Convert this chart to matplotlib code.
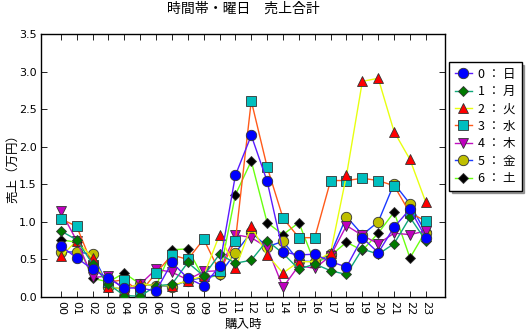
import matplotlib
matplotlib.use("Agg")
import matplotlib.pyplot as plt
import numpy as np

plt.rcParams['font.family'] = ['Noto Sans CJK JP', 'DejaVu Sans']
plt.rcParams['xtick.direction'] = 'in'
plt.rcParams['ytick.direction'] = 'in'
plt.rcParams['xtick.top'] = True
plt.rcParams['ytick.right'] = True

# 時間帯ラベル
hours = ["%02d" % h for h in range(24)]
weekdays = ["日", "月", "火", "水", "木", "金", "土"]

# 曜日ごとの売上合計（万円）
sales_0 = [0.68, 0.52, 0.37, 0.25, 0.12, 0.12, 0.08, 0.46, 0.25, 0.15, 0.41, 1.62,
           2.15, 1.54, 0.60, 0.56, 0.57, 0.47, 0.40, 0.79, 0.59, 0.93, 1.17, 0.79]
sales_1 = [0.88, 0.76, 0.44, 0.17, 0.02, 0.01, 0.15, 0.17, 0.46, 0.28, 0.57, 0.45,
           0.49, 0.75, 0.58, 0.37, 0.44, 0.35, 0.30, 0.64, 0.57, 0.71, 1.06, 0.75]
sales_2 = [0.54, 0.75, 0.52, 0.14, 0.10, 0.18, 0.15, 0.15, 0.22, 0.28, 0.83, 0.38,
           0.94, 0.56, 0.32, 0.47, 0.47, 0.59, 1.62, 2.87, 2.91, 2.20, 1.83, 1.26]
sales_3 = [1.04, 0.94, 0.42, 0.20, 0.23, 0.06, 0.32, 0.56, 0.50, 0.77, 0.34, 0.75,
           2.61, 1.73, 1.05, 0.79, 0.79, 1.55, 1.55, 1.58, 1.55, 1.48, 1.12, 1.01]
sales_4 = [1.14, 0.75, 0.26, 0.28, 0.10, 0.17, 0.37, 0.33, 0.23, 0.34, 0.35, 0.83,
           0.79, 0.66, 0.13, 0.42, 0.38, 0.55, 0.95, 0.82, 0.71, 0.85, 0.83, 0.88]
sales_5 = [0.60, 0.60, 0.57, 0.14, 0.10, 0.18, 0.15, 0.14, 0.22, 0.26, 0.30, 0.59,
           0.86, 0.67, 0.74, 0.48, 0.47, 0.57, 1.07, 0.83, 1.00, 1.51, 1.24, 0.85]
sales_6 = [0.76, 0.73, 0.25, 0.20, 0.32, 0.17, 0.15, 0.63, 0.64, 0.25, 0.29, 1.36,
           1.81, 0.99, 0.83, 0.99, 0.45, 0.55, 0.73, 0.62, 0.85, 1.13, 0.52, 0.88]
sales = [sales_0, sales_1, sales_2, sales_3, sales_4, sales_5, sales_6]

line_colors = ['#5a1aff', '#10a87a', '#e8ff10', '#ff5a1a', '#c010c0', '#1a3aff', '#6aff10']
face_colors = ['#0000ff', '#007a00', '#ff0000', '#00bfbf', '#bf00bf', '#bfbf00', '#000000']
markers = ['o', 'D', '^', 's', 'v', 'o', 'D']
sizes = [7.5, 5.5, 7.5, 7.5, 7.5, 7.5, 5.5]

fig = plt.figure(figsize=(5.29, 3.33), dpi=100)
ax = fig.add_axes([0.0775, 0.108, 0.7635, 0.79])

x = np.arange(len(hours))
for i, s in enumerate(sales):
    # 日曜を一番上に描く
    ax.plot(x, s, color=line_colors[i], marker=markers[i], markersize=sizes[i],
            markerfacecolor=face_colors[i], markeredgecolor='#333333',
            markeredgewidth=0.6, linewidth=1.0, zorder=10 - i,
            label="%d ： %s" % (i, weekdays[i]))

ax.set_xlim(-1.25, 24.2)
ax.set_ylim(0, 3.5)
ax.set_xticks(x)
ax.set_xticklabels(hours, rotation=270, fontsize=8, family='DejaVu Sans')
ax.set_yticks(np.arange(0, 3.51, 0.5))
ax.set_yticklabels(["%.1f" % v for v in np.arange(0, 3.51, 0.5)], fontsize=8, family='DejaVu Sans')
ax.tick_params(length=4, width=0.6, pad=3)
for sp in ax.spines.values():
    sp.set_linewidth(1.0)

ax.set_title("時間帯・曜日　売上合計", fontsize=10, pad=15)
ax.set_xlabel("購入時", fontsize=9, labelpad=2)
ax.set_ylabel("売上（万円）", fontsize=9, labelpad=0)

leg = ax.legend(loc='upper left', bbox_to_anchor=(449 / 529, 1 - 62 / 333),
                bbox_transform=fig.transFigure, fontsize=9, handlelength=1.4,
                shadow=True, fancybox=False, framealpha=1, edgecolor='black',
                borderpad=0.45, labelspacing=0.35, handletextpad=0.5,
                borderaxespad=0)
leg.get_frame().set_linewidth(1.0)

fig.savefig("out.png", dpi=100)
